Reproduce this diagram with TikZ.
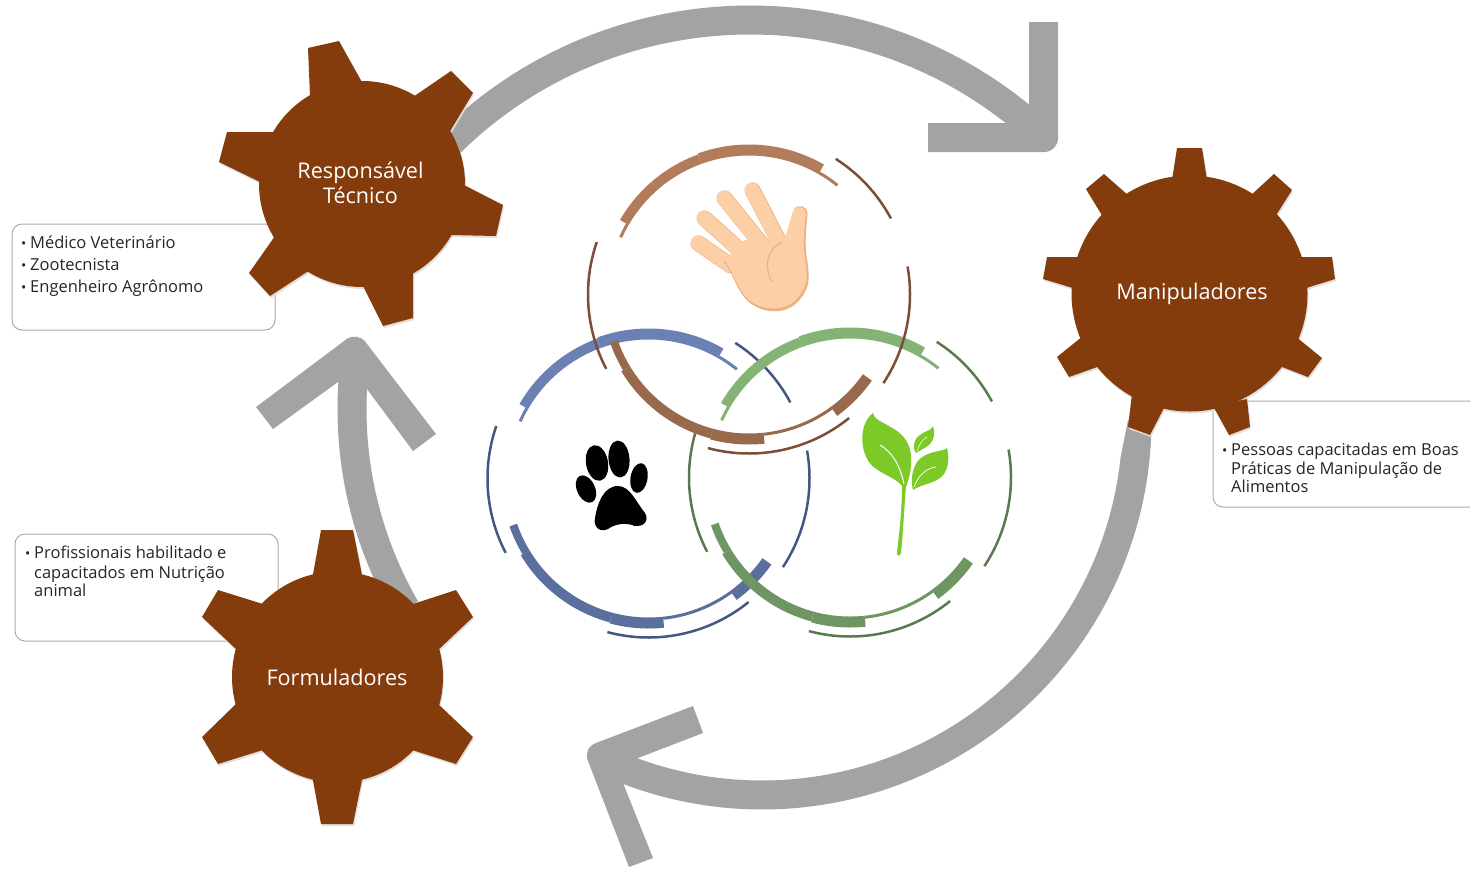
\documentclass[tikz,border=0pt]{standalone}
\usepackage{fontspec}
\setmainfont{Open Sans}
\definecolor{gearbrown}{HTML}{843C0C}
\definecolor{gearshade}{HTML}{E2DFDD}
\definecolor{arrowgrey}{HTML}{A3A3A3}
\definecolor{boxline}{HTML}{ABABAB}
\definecolor{browntop}{HTML}{B27C5A}
\definecolor{brownbot}{HTML}{99694B}
\definecolor{brownthin}{HTML}{7A4E37}
\definecolor{bluetop}{HTML}{6B80B3}
\definecolor{bluebot}{HTML}{5A6F9E}
\definecolor{bluethin}{HTML}{44587F}
\definecolor{greentop}{HTML}{85B376}
\definecolor{greenbot}{HTML}{6F9563}
\definecolor{greenthin}{HTML}{597A50}
\definecolor{skin}{HTML}{FCCFA6}
\definecolor{skinedge}{HTML}{EBB283}
\definecolor{leaf}{HTML}{7DC928}
\tikzset{
  geartext/.style={text=white,inner sep=0pt,anchor=base,font=\fontsize{21.6}{25}\selectfont},
  bodytext/.style={text=black!85,inner sep=0pt,anchor=base west,font=\fontsize{16.5}{20}\selectfont},
  bulletmark/.style={text=black!85,inner sep=0pt,anchor=base west,font=\fontsize{14}{14}\selectfont},
  infobox/.style={draw=boxline,line width=1pt,fill=white,rounded corners=10pt},
  arrowfill/.style={fill=arrowgrey},
  arrowshaft/.style={draw=arrowgrey,line width=29pt}
}
% arc in pixel angles round the current scope origin
\newcommand{\rarc}[5]{\draw[#1,line width=#2pt] (#4:#3) arc[start angle=#4,end angle=#5,radius=#3];}
% inner-aligned thick piece
\newcommand{\tarc}[4]{\pgfmathsetmacro{\rr}{139+#2/2}\draw[#1,line width=#2pt] (#3:\rr) arc[start angle=#3,end angle=#4,radius=\rr];}
\newcommand{\ringset}[5]{%
\begin{scope}[shift={(#1,#2)}]
  \rarc{#5}{2.5}{161}{302.6}{331.8}
  \rarc{#5}{2.5}{161}{350}{393.4}
  \rarc{#5}{2.5}{159}{51}{105}
  \rarc{#5}{2.5}{161}{152.5}{199}
  \tarc{#3}{3}{204}{210}
  \tarc{#3}{10}{210}{229}
  \tarc{#3}{10}{229}{250}
  \tarc{#3}{11}{250}{300}
  \tarc{#3}{3}{300}{309}
  \tarc{#4}{11}{35}{54}
  \tarc{#4}{3}{54}{84}
  \tarc{#4}{11}{84}{105}
  \tarc{#4}{10}{105}{149}
  \tarc{#4}{8}{149}{161}
\end{scope}}
\newcommand{\gearRT}[1]{%
  \fill[#1] (362,184) circle[radius=103];
  \fill[#1] (308,48)--(339,41)--(363,84)--(310,96)--cycle;
  \fill[#1] (413,97)--(451,71)--(473,93)--(449,133)--cycle;
  \fill[#1] (462,184)--(503,205)--(496,236)--(450,235)--cycle;
  \fill[#1] (413,270)--(413,318)--(383,326)--(362,284)--cycle;
  \fill[#1] (310,270)--(270,296)--(249,273)--(275,236)--cycle;
  \fill[#1] (262,183)--(219,162)--(227,132)--(275,132)--cycle;}
\newcommand{\gearMA}[1]{%
  \fill[#1] (1189.5,293.5) circle[radius=118];
  \fill[#1] (1177,148)--(1202,148)--(1207,180)--(1172,180)--cycle;
  \fill[#1] (1250,196)--(1274,174)--(1292,190)--(1275,217)--cycle;
  \fill[#1] (1298,257)--(1332,257)--(1335,279)--(1303,289)--cycle;
  \fill[#1] (1295,336)--(1322,358)--(1308,377)--(1277,365)--cycle;
  \fill[#1] (1247,399)--(1250,427)--(1229,435)--(1213,406)--cycle;
  \fill[#1] (1165,406)--(1150,435)--(1128,427)--(1132,394)--cycle;
  \fill[#1] (1100,366)--(1069,377)--(1057,357)--(1083,336)--cycle;
  \fill[#1] (1076,289)--(1043,279)--(1047,257)--(1080,257)--cycle;
  \fill[#1] (1103,217)--(1086,189)--(1104,174)--(1129,196)--cycle;}
\newcommand{\gearFO}[1]{%
  \fill[#1] (337.5,677) circle[radius=105.5];
  \fill[#1] (321,530)--(353,530)--(363,580)--(312,580)--cycle;
  \fill[#1] (410,605)--(456,590)--(473,617)--(437,651)--cycle;
  \fill[#1] (436,702)--(473,737)--(456,764)--(409,749)--cycle;
  \fill[#1] (363,775)--(353,824)--(321,824)--(312,775)--cycle;
  \fill[#1] (266,749)--(218,764)--(202,737)--(238,702)--cycle;
  \fill[#1] (238,651)--(202,617)--(218,590)--(266,605)--cycle;}
\begin{document}
\begin{tikzpicture}[x=1pt,y=-1pt]
\useasboundingbox (0,0) rectangle (1470,868);
\fill[white] (0,0) rectangle (1470,868);

% block arrows
\draw[arrowshaft] (750,448) ++(224:428) arc[start angle=224,end angle=311,radius=428];
\fill[arrowfill] (1029,22)--(1058,22)--(1058,138) .. controls (1058,146) and (1052,152) .. (1044,152)--(928,152)--(928,123)--(1006,123)--(1029,104)--cycle;
\begin{scope}
  \clip (1128,420) -- (1200,420) -- (1200,868) -- (500,868) -- (500,600) -- (1060,560) -- (1118,470) -- cycle;
  \draw[arrowshaft] (762,420) ++(0:375) arc[start angle=0,end angle=113.6,radius=375];
\end{scope}
\fill[arrowfill] (693,706)--(703,733)--(638,758)--(623,783)--(653,858)--(629,867)--(588,761) .. controls (585,753) and (588,746.2) .. (596,743)--cycle;
\draw[arrowshaft] (751,409) ++(150:399) arc[start angle=150,end angle=185,radius=399];
\fill[arrowfill] (256,407)--(273,429)--(338,382)--(367,389)--(413,451)--(436,434)--(365.5,342) .. controls (360.8,336) and (352,334.8) .. (346,339.5)--cycle;

% information boxes
\draw[infobox] (12,224) rectangle (275,330);
\draw[infobox] (1213,401) -- (1480,401) -- (1480,507) -- (1213,507) -- cycle;
\draw[infobox] (15,534) rectangle (278,641);

% rings
\ringset{648.5}{478.5}{bluetop}{bluebot}{bluethin}
\ringset{850}{477.5}{greentop}{greenbot}{greenthin}
\ringset{749}{294.5}{browntop}{brownbot}{brownthin}

% gears
\begin{scope}[shift={(1,2)}]\gearRT{gearshade}\end{scope}
\begin{scope}[shift={(1,2)}]\gearMA{gearshade}\end{scope}
\begin{scope}[shift={(1,2)}]\gearFO{gearshade}\end{scope}
\gearRT{gearbrown}
\gearMA{gearbrown}
\gearFO{gearbrown}

\node[geartext] (rt1) at (360.5,178) {Responsável};
\node[geartext] (rt2) at (360.5,203) {Técnico};
\node[geartext] (man) at (1192,299) {Manipuladores};
\node[geartext] (for) at (337,685) {Formuladores};

% box texts
\node[bulletmark] (ba0) at (21,248) {•};
\node[bodytext] (ba1) at (30,248) {Médico Veterinário};
\node[bulletmark] (bb0) at (21,270) {•};
\node[bodytext] (bb1) at (30,270) {Zootecnista};
\node[bulletmark] (bc0) at (21,292) {•};
\node[bodytext] (bc1) at (30,292) {Engenheiro Agrônomo};

\node[bulletmark] (bd0) at (1222,455) {•};
\node[bodytext] (bd1) at (1231,455) {Pessoas capacitadas em Boas};
\node[bodytext] (bd2) at (1231,474) {Práticas de Manipulação de};
\node[bodytext] (bd3) at (1231,492) {Alimentos};

\node[bulletmark] (be0) at (25,558) {•};
\node[bodytext] (be1) at (34,558) {Profissionais habilitado e};
\node[bodytext] (be2) at (34,578) {capacitados em Nutrição};
\node[bodytext] (be3) at (34,596) {animal};

% hand
\begin{scope}[line cap=round]
  \foreach \xa/\ya/\xb/\yb in {698/243/730/265,704/218/743/253,724/198/762/245,752/190/783/250}{
    \draw[skinedge,line width=16pt] (\xa+0.6,\ya+0.4) -- (\xb+0.6,\yb+0.4);
    \draw[skin,line width=14.8pt] (\xa,\ya) -- (\xb,\yb);
  }
\end{scope}
\fill[skinedge] (724,262) .. controls (733,272) and (738,298) .. (755,306) .. controls (768,314) and (790,314) .. (801,298) .. controls (810,286) and (809,280) .. (808,265) .. controls (804,245) and (806,232) .. (807.5,214) .. controls (807.5,204) and (794,204) .. (793,212) -- (785,241) -- (745,242) -- cycle;
\fill[skin] (724,260) .. controls (733,270) and (738,295) .. (755,304) .. controls (768,311) and (788,311) .. (799,296) .. controls (808,284) and (807,278) .. (806,265) .. controls (802,245) and (804,232) .. (806,214) .. controls (806,205) and (794,205) .. (793,212) -- (784,241) -- (745,240) -- cycle;
\draw[skinedge,line width=1.2pt,line cap=round] (782,242) .. controls (768,248) and (763,265) .. (772,282);

% paw
\fill[black,rotate around={10:(597,463)}] (597,463) ellipse[x radius=11,y radius=18];
\fill[black,rotate around={5:(619,459)}] (619,459) ellipse[x radius=10.5,y radius=18.5];
\fill[black,rotate around={-10:(639,478)}] (639,478) ellipse[x radius=8.5,y radius=15];
\fill[black,rotate around={25:(586,489)}] (586,489) ellipse[x radius=9,y radius=14.5];
\fill[black] (618,486) .. controls (630,486) and (636,502) .. (645,513) .. controls (650,522) and (642,527) .. (635,526) .. controls (625,522) and (615,524) .. (608,529) .. controls (600,533) and (593,527) .. (595,518) .. controls (597,505) and (603,486) .. (618,486) -- cycle;

% plant
\fill[leaf] (906,486) .. controls (904,510) and (903,535) .. (901,553) .. controls (900,557) and (896,556) .. (897,552) .. controls (899,535) and (902,510) .. (902,486) -- cycle;
\fill[leaf] (873,413) .. controls (874,425) and (908,425) .. (911,455) .. controls (912,470) and (909,478) .. (905,490) .. controls (898,478) and (885,476) .. (875,468) .. controls (860,458) and (857,425) .. (873,413) -- cycle;
\fill[leaf] (933,426) .. controls (932,432) and (914,432) .. (914,446) .. controls (914,450) and (915,452) .. (916,453) .. controls (920,450) and (926,448) .. (930,444) .. controls (935,438) and (935,432) .. (933,426) -- cycle;
\fill[leaf] (947,448) .. controls (944,452) and (926,450) .. (917,462) .. controls (911,472) and (911,482) .. (913,490) .. controls (922,484) and (932,484) .. (940,478) .. controls (948,472) and (950,460) .. (947,448) -- cycle;
\draw[white,line width=1pt] (880,445) .. controls (892,452) and (900,465) .. (904,484);
\draw[white,line width=0.7pt] (936,467) .. controls (926,468) and (918,476) .. (914,487);
\draw[white,line width=0.5pt] (927,437) .. controls (922,440) and (919,445) .. (917,451);
\end{tikzpicture}
\end{document}
